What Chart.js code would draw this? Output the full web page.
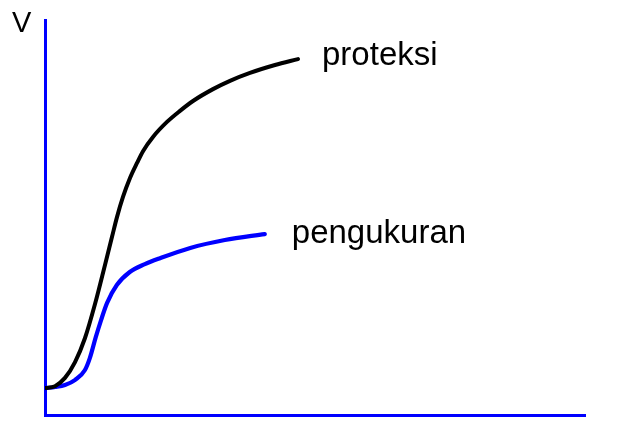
<!DOCTYPE html>
<html>
<head>
<meta charset="utf-8">
<script src="https://cdn.jsdelivr.net/npm/chart.js@4"></script>
<style>
html,body{margin:0;padding:0;background:#fff;}
#wrap{width:633px;height:428px;position:relative;}
</style>
</head>
<body>
<div id="wrap"><canvas id="c" width="633" height="428"></canvas></div>
<script>
// Data (arbitrary units: x 0..100, V 0..100)
const proteksiX = [0, 1.85, 3.70, 5.56, 7.41, 9.26, 11.11, 12.41, 13.33, 14.44, 15.74, 17.04, 18.15, 20.0, 22.59, 25.0, 27.41, 31.11, 34.26, 37.96, 42.59, 46.85];
const proteksiY = [6.8, 7.3, 9.4, 13.4, 19.5, 28.1, 38.0, 45.1, 50.1, 55.2, 60.0, 63.8, 66.8, 70.4, 74.2, 77.0, 79.5, 82.5, 84.6, 86.6, 88.6, 90.1];
const pengukuranX = [0, 1.9, 3.7, 5.6, 7.4, 8.3, 9.4, 10.4, 11.5, 13.3, 15.7, 18.5, 21.3, 26.9, 33.3, 40.7];
const pengukuranY = [6.8, 7.1, 7.6, 8.9, 11.4, 14.4, 19.7, 24.1, 28.4, 32.9, 36.2, 38.2, 39.7, 42.3, 44.3, 45.8];
const seriesNames = ["proteksi", "pengukuran"];
const axisLabelY = "V";
// label anchors (data units: left x, baseline y)
const labelX = [51.3, 45.7];
const labelY = [88.6, 43.5];

const toPts = (xs, ys) => xs.map((x, i) => ({x: x, y: ys[i]}));

const labelPlugin = {
  id: 'labels',
  afterDraw(chart) {
    const ctx = chart.ctx;
    const xs = chart.scales.x, ys = chart.scales.y;
    ctx.save();
    ctx.fillStyle = '#000';
    ctx.textBaseline = 'alphabetic';
    ctx.textAlign = 'left';
    ctx.font = '33px "Liberation Sans", Arial, sans-serif';
    seriesNames.forEach((n, i) => {
      ctx.fillText(n, xs.getPixelForValue(labelX[i]), ys.getPixelForValue(labelY[i]));
    });
    ctx.font = '29px "Liberation Sans", Arial, sans-serif';
    ctx.fillText(axisLabelY, 12, 32);
    ctx.restore();
  }
};

new Chart(document.getElementById('c'), {
  type: 'scatter',
  data: {
    datasets: [
      {
        label: seriesNames[0],
        data: toPts(proteksiX, proteksiY),
        showLine: true,
        borderColor: '#000000',
        borderWidth: 4,
        pointRadius: 0,
        cubicInterpolationMode: 'monotone',
        borderCapStyle: 'round',
        fill: false
      },
      {
        label: seriesNames[1],
        data: toPts(pengukuranX, pengukuranY),
        showLine: true,
        borderColor: '#0000ff',
        borderWidth: 4.2,
        pointRadius: 0,
        cubicInterpolationMode: 'monotone',
        borderCapStyle: 'round',
        fill: false
      }
    ]
  },
  options: {
    responsive: false,
    animation: false,
    layout: { padding: { left: 45, right: 48, top: 20, bottom: 13 } },
    plugins: { legend: { display: false }, tooltip: { enabled: false } },
    scales: {
      x: {
        type: 'linear', min: 0, max: 100,
        ticks: { display: false },
        grid: { display: false, drawTicks: false },
        border: { display: true, color: '#0000ff', width: 3 }
      },
      y: {
        type: 'linear', min: 0, max: 100,
        ticks: { display: false },
        grid: { display: false, drawTicks: false },
        border: { display: true, color: '#0000ff', width: 3 }
      }
    }
  },
  plugins: [labelPlugin]
});
</script>
</body>
</html>
